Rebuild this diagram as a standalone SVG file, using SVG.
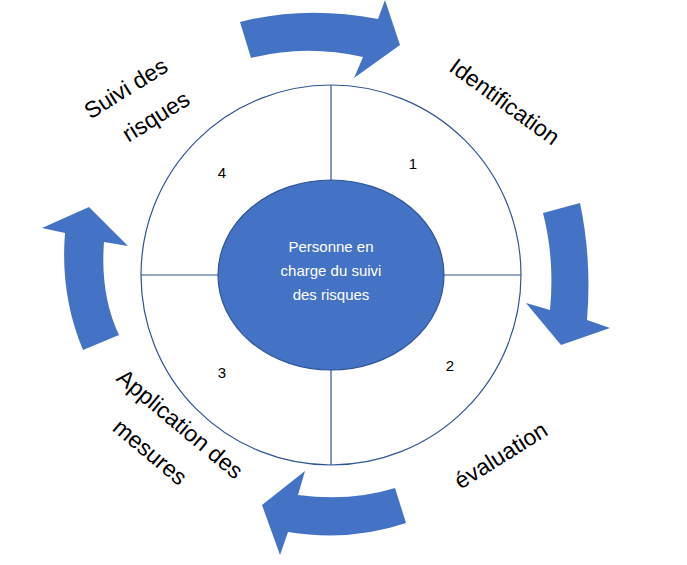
<svg xmlns="http://www.w3.org/2000/svg" width="687" height="565" viewBox="0 0 687 565">
<style>
.arr{fill:#4472c4}
.ln{stroke:#2f5597;stroke-width:1.2;fill:none}
.lbl{font-family:"Liberation Sans",sans-serif;font-size:23px;fill:#000}
.num{font-family:"Liberation Sans",sans-serif;font-size:15px;fill:#000;text-anchor:middle}
.ctr{font-family:"Liberation Sans",sans-serif;font-size:15px;fill:#fff;text-anchor:middle}
</style>
<rect width="687" height="565" fill="#fff"/>
<g id="ring">
<circle cx="331" cy="275" r="190" fill="#fff" class="ln"/>
</g>
<g id="connectors">
<line x1="331" y1="85" x2="331" y2="180" class="ln"/>
<line x1="331" y1="370" x2="331" y2="465" class="ln"/>
<line x1="141" y1="275" x2="218" y2="275" class="ln"/>
<line x1="444" y1="275" x2="521" y2="275" class="ln"/>
<path class="arr" d="M240,22 Q305,5 378,19 L385,0 L400,45 L354,78 L363,57 Q305,44 251,58 Z"/>
<path class="arr" d="M543,213 L580,203 Q592,260 587,320 L610,328 L561,345 L526,303 L550,310 Q555,260 543,213 Z"/>
<path class="arr" d="M89,207 L128,246 L104,242 Q100,295 119,335 L83,350 Q60,295 65,233 L42,228 Z"/>
<path class="arr" d="M305,471 L298,495 Q350,502 395,488 L406,523 Q350,542 288,532 L280,555 L262,505 Z"/>
</g>
<g id="center">
<ellipse cx="331" cy="275" rx="113" ry="95" fill="#4472c4" stroke="#2f5597" stroke-width="1.2"/>
<text class="ctr" x="331" y="252">Personne en</text>
<text class="ctr" x="331" y="276">charge du suivi</text>
<text class="ctr" x="331" y="300">des risques</text>
</g>
<g id="numbers">
<text class="num" x="413" y="169">1</text>
<text class="num" x="450" y="371">2</text>
<text class="num" x="222" y="378">3</text>
<text class="num" x="222" y="178">4</text>
</g>
<g id="labels">
<text class="lbl" text-anchor="middle" transform="translate(500,108) rotate(36)">Identification</text>
<text class="lbl" text-anchor="middle" transform="translate(505,462) rotate(-32)">évaluation</text>
<text class="lbl" text-anchor="middle" transform="translate(130,95) rotate(-32)">Suivi des</text>
<text class="lbl" text-anchor="middle" transform="translate(160,123) rotate(-32)">risques</text>
<text class="lbl" text-anchor="middle" transform="translate(175,430) rotate(40)">Application des</text>
<text class="lbl" text-anchor="middle" transform="translate(145,458) rotate(40)">mesures</text>
</g>
</svg>
